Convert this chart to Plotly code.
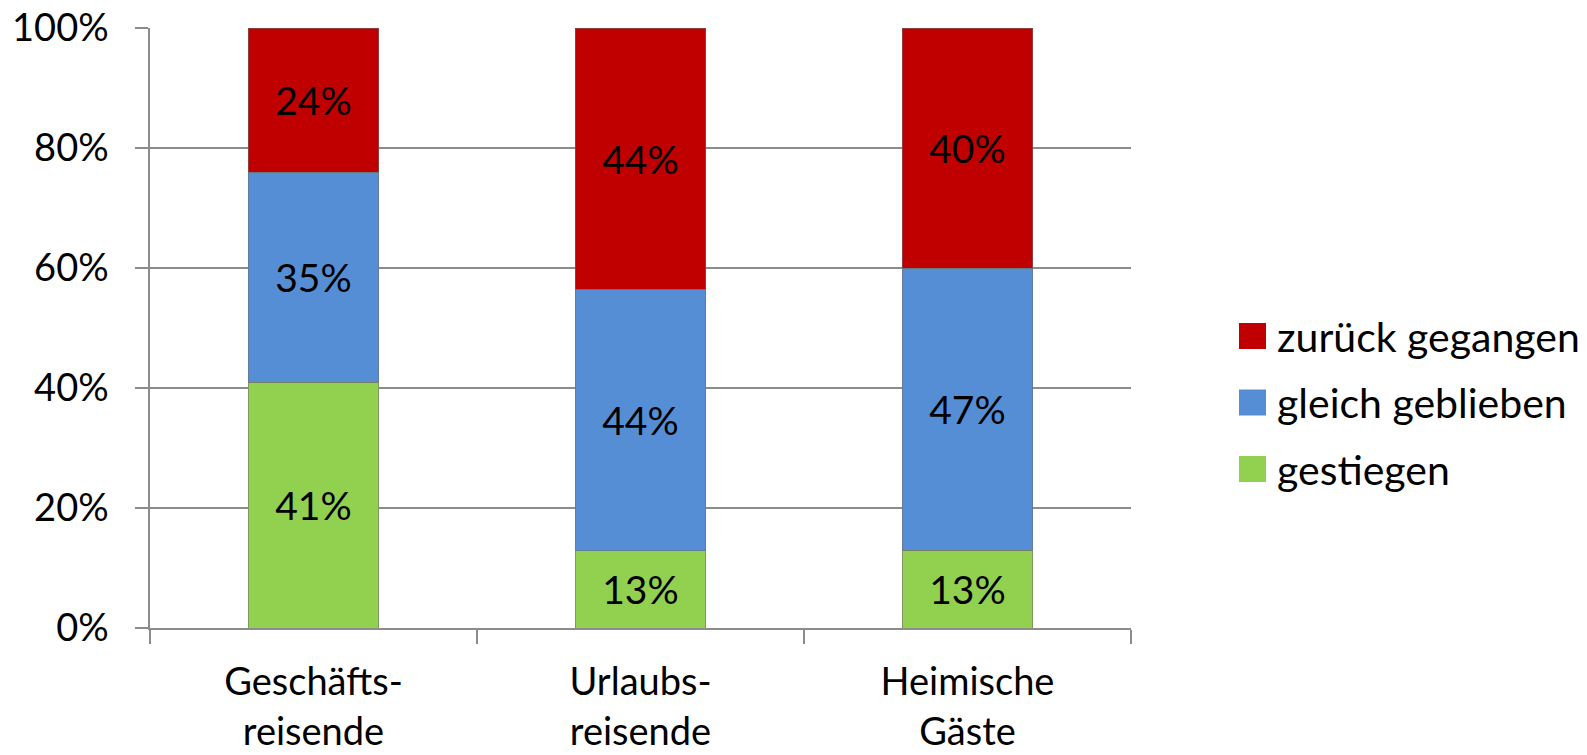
import plotly.graph_objects as go

categories = ["Geschäfts-<br>reisende", "Urlaubs-<br>reisende", "Heimische<br>Gäste"]
series_names = ["gestiegen", "gleich geblieben", "zurück gegangen"]
gestiegen = [41, 13, 13]
gleich_geblieben = [35, 44, 47]
zurueck_gegangen = [24, 44, 40]
colors = ["#92D050", "#558ED5", "#C00000"]
y_ticks = [0, 20, 40, 60, 80, 100]
y_tick_labels = ["0%", "20%", "40%", "60%", "80%", "100%"]

FONT = "Lato, 'Open Sans', sans-serif"

W, H = 1587, 755
L, R, T, B = 150, 456, 28, 127
pw, ph = W - L - R, H - T - B

fig = go.Figure()
for name, vals, col in zip(series_names, [gestiegen, gleich_geblieben, zurueck_gegangen], colors):
    fig.add_trace(go.Bar(
        x=categories, y=vals, name=name,
        marker=dict(color=col, line=dict(color="rgba(110,110,110,0.55)", width=1)),
        text=[f"{v}%" for v in vals], textposition="inside", insidetextanchor="middle",
        textfont=dict(family=FONT, size=39, color="black"),
        textangle=0, constraintext="none", showlegend=False,
    ))

def px_to_paper_x(px):
    return (px - L) / pw

def px_to_paper_y(py):
    return (H - B - py) / ph

legend_rows = list(zip(series_names, colors))[::-1]
for i, (name, col) in enumerate(legend_rows):
    cy = 336 + i * 66.5
    fig.add_shape(type="rect", xref="paper", yref="paper",
                  x0=px_to_paper_x(1239), x1=px_to_paper_x(1266),
                  y0=px_to_paper_y(cy - 13), y1=px_to_paper_y(cy + 13),
                  fillcolor=col, line=dict(width=0))
    fig.add_annotation(xref="paper", yref="paper", x=px_to_paper_x(1275), y=px_to_paper_y(cy),
                       text=name, showarrow=False, xanchor="left", yanchor="middle",
                       font=dict(family=FONT, size=41, color="black"))

fig.update_layout(
    barmode="stack", barnorm="percent", bargap=0.6,
    width=W, height=H,
    margin=dict(l=L, r=R, t=T, b=B, autoexpand=False),
    paper_bgcolor="white", plot_bgcolor="white",
    font=dict(family=FONT, size=39, color="black"),
)
fig.update_xaxes(
    showline=True, linecolor="#8c8c8c", linewidth=1.5,
    ticks="outside", tickson="boundaries", ticklen=14, tickcolor="#8c8c8c", tickwidth=1.5,
    tickfont=dict(family=FONT, size=38, color="black"), ticklabelstandoff=20,
    showgrid=False,
)
fig.update_yaxes(
    range=[0, 100], tickvals=y_ticks, ticktext=y_tick_labels,
    showline=True, linecolor="#8c8c8c", linewidth=1.5,
    ticks="outside", ticklen=13, tickcolor="#8c8c8c", tickwidth=1.5,
    showgrid=True, gridcolor="#8c8c8c", gridwidth=1.5,
    tickfont=dict(family=FONT, size=38, color="black"), ticklabelstandoff=19,
    ticklabeloverflow="allow", zeroline=False,
)

fig.write_html(
    "out.html",
    config={"displayModeBar": False},
    post_script="document.body.style.margin='0';document.body.style.overflow='hidden';",
)
